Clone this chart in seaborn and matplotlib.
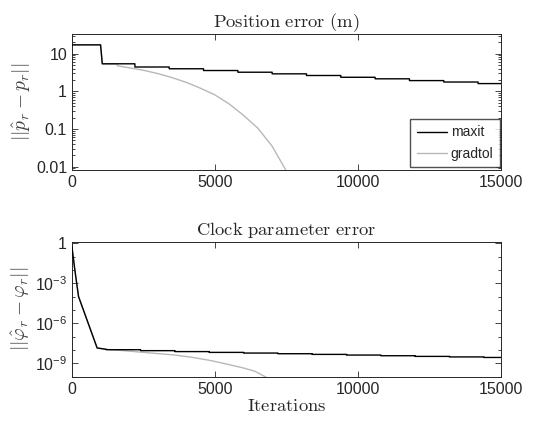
import numpy as np
import pandas as pd
import matplotlib
matplotlib.use('Agg')
import matplotlib.pyplot as plt
import matplotlib.ticker as mticker
import seaborn as sns

# ---- values ----
# position error, maxit: flat start, big drop, then regular stairs
POS_MAXIT_HEAD_X = [0, 1000]
POS_MAXIT_HEAD_Y = [17.0, 17.0]
POS_MAXIT_EDGES = [1060, 2200, 3400, 4600, 5800, 7000, 8200, 9400, 10600, 11800, 13000, 14200, 15000]
POS_MAXIT_LEVELS = [5.35, 4.4, 3.95, 3.55, 3.2, 2.9, 2.62, 2.35, 2.14, 1.92, 1.76, 1.6]

# position error, gradtol: same start, then bends down
POS_GRAD_EDGES = [1060, 1560]
POS_GRAD_LEVELS = [5.35]
POS_GRAD_X = [1600, 2000, 2500, 3000, 3500, 4000, 4500, 5000, 5500, 6000, 6500, 7000, 7500]
POS_GRAD_Y = [4.7, 4.2, 3.6, 2.95, 2.3, 1.72, 1.2, 0.8, 0.46, 0.23, 0.105, 0.035, 0.0076]

# clock parameter error (log10 values)
CLK_HEAD_X = [0, 100, 230, 880, 1200]
CLK_HEAD_LOG = [-0.3, -2.0, -4.0, -7.85, -7.95]
CLK_MAXIT_EDGES = [1200, 2400, 3600, 4800, 6000, 7200, 8400, 9600, 10800, 12000, 13200, 14400, 15000]
CLK_MAXIT_LOG = [-7.98, -8.05, -8.12, -8.18, -8.23, -8.28, -8.33, -8.38, -8.43, -8.48, -8.52, -8.56]
CLK_GRAD_X = [1700, 2400, 3000, 3600, 4200, 4800, 5400, 6000, 6400, 6800]
CLK_GRAD_LOG = [-8.03, -8.16, -8.27, -8.38, -8.55, -8.77, -9.05, -9.35, -9.6, -10.05]

POS_YTICKS = [0.01, 0.1, 1, 10]
POS_YTICKLABELS = ['0.01', '0.1', '1', '10']
CLK_YTICKS = [1e-9, 1e-6, 1e-3, 1]
CLK_YTICKLABELS = [r'$\mathregular{10^{-9}}$', r'$\mathregular{10^{-6}}$',
                   r'$\mathregular{10^{-3}}$', '1']
XTICKS = [0, 5000, 10000, 15000]


def stairs(edges, levels):
    xs, ys = [], []
    for i, lv in enumerate(levels):
        xs += [edges[i], edges[i + 1]]
        ys += [lv, lv]
    return xs, ys


sx, sy = stairs(POS_MAXIT_EDGES, POS_MAXIT_LEVELS)
pos_maxit = pd.DataFrame({'it': POS_MAXIT_HEAD_X + sx, 'err': POS_MAXIT_HEAD_Y + sy})
gx, gy = stairs(POS_GRAD_EDGES, POS_GRAD_LEVELS)
pos_grad = pd.DataFrame({'it': POS_MAXIT_HEAD_X + gx + POS_GRAD_X,
                         'err': POS_MAXIT_HEAD_Y + gy + POS_GRAD_Y})

cx, cy = stairs(CLK_MAXIT_EDGES, CLK_MAXIT_LOG)
clk_maxit = pd.DataFrame({'it': CLK_HEAD_X + cx,
                          'err': 10.0 ** np.array(CLK_HEAD_LOG + cy)})
clk_grad = pd.DataFrame({'it': CLK_HEAD_X + CLK_GRAD_X,
                         'err': 10.0 ** np.array(CLK_HEAD_LOG + CLK_GRAD_LOG)})

sns.set_theme(style='ticks')
plt.rcParams['font.family'] = ['Liberation Sans', 'DejaVu Sans']
plt.rcParams['mathtext.fontset'] = 'cm'
plt.rcParams['axes.unicode_minus'] = False

DARK = '#262626'
GRAY = '#b8b8b8'

fig = plt.figure(figsize=(5.49, 4.28), dpi=100)
ax1 = fig.add_axes([0.1311, 0.6028, 0.7814, 0.3178])
ax2 = fig.add_axes([0.1311, 0.1199, 0.7814, 0.3154])

# top: position error
sns.lineplot(data=pos_grad, x='it', y='err', ax=ax1, color=GRAY, lw=1.0,
             sort=False, estimator=None, label='gradtol', zorder=2)
sns.lineplot(data=pos_maxit, x='it', y='err', ax=ax1, color='black', lw=1.0,
             sort=False, estimator=None, label='maxit', zorder=3)
ax1.set_yscale('log')
ax1.set_ylim(0.0082, 33)
ax1.set_yticks(POS_YTICKS)
ax1.set_yticklabels(POS_YTICKLABELS)
ax1.yaxis.set_minor_locator(mticker.LogLocator(base=10, subs=np.arange(2, 10)))
ax1.yaxis.set_minor_formatter(mticker.NullFormatter())
ax1.set_title(r'$\mathrm{Position\ error\ (m)}$', fontsize=13.4, pad=5)
ax1.set_ylabel(r'$||\hat{p}_r - p_r||$', fontsize=14, color='#404040', labelpad=2)
h, l = ax1.get_legend_handles_labels()
ax1.legend(h[::-1], l[::-1], loc='lower right', bbox_to_anchor=(0.997, 0.02),
           fontsize=10, frameon=True, fancybox=False, edgecolor=DARK,
           handlelength=2.2, borderpad=0.45, labelspacing=0.55, handletextpad=0.25,
           borderaxespad=0)

# bottom: clock parameter error
sns.lineplot(data=clk_grad, x='it', y='err', ax=ax2, color=GRAY, lw=1.0,
             sort=False, estimator=None, zorder=2)
sns.lineplot(data=clk_maxit, x='it', y='err', ax=ax2, color='black', lw=1.0,
             sort=False, estimator=None, zorder=3)
ax2.set_yscale('log')
ax2.set_ylim(1e-10, 1.3)
ax2.set_yticks(CLK_YTICKS)
ax2.set_yticklabels(CLK_YTICKLABELS)
ax2.yaxis.set_minor_locator(mticker.LogLocator(base=10, subs=(1.0,), numticks=20))
ax2.yaxis.set_minor_formatter(mticker.NullFormatter())
ax2.set_title(r'$\mathrm{Clock\ parameter\ error}$', fontsize=13.4, pad=5)
ax2.set_ylabel(r'$||\hat{\varphi}_r - \varphi_r||$', fontsize=14, color='#404040', labelpad=2)
ax2.set_xlabel(r'$\mathrm{Iterations}$', fontsize=13.4, labelpad=1)

for ax in (ax1, ax2):
    ax.set_xlim(0, 15000)
    ax.set_xticks(XTICKS)
    ax.set_xticklabels([str(t) for t in XTICKS])
    if ax is ax1:
        ax.set_xlabel('')
    ax.tick_params(which='both', direction='in', top=True, right=True,
                   colors=DARK, labelsize=11.5, width=0.6)
    ax.tick_params(which='major', length=4)
    ax.tick_params(which='minor', length=2)
    for s in ax.spines.values():
        s.set_color(DARK)
        s.set_linewidth(0.7)
        s.set_visible(True)

fig.savefig('out.png', dpi=100)
